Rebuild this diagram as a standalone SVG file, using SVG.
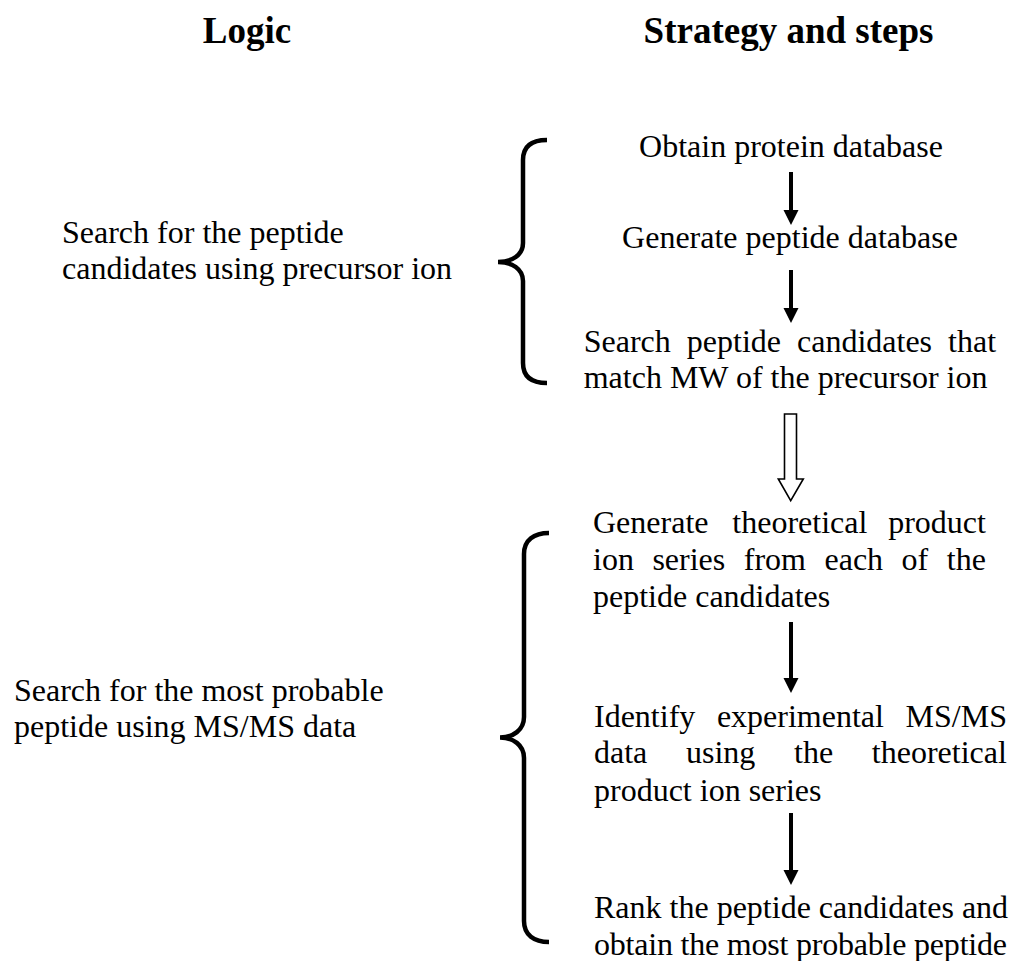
<svg xmlns="http://www.w3.org/2000/svg" width="1014" height="961" viewBox="0 0 1014 961">
<style>
text{font-family:"Liberation Serif","Times New Roman",serif;fill:#000}
.h{font-size:37px;font-weight:bold;text-anchor:middle}
.t{font-size:32px}
.c{text-anchor:middle}
.brace{fill:none;stroke:#000;stroke-width:4.5;stroke-linecap:butt}
.solid{fill:#000;stroke:none}
.hollow{fill:#fff;stroke:#000;stroke-width:1.6;stroke-linejoin:miter}
</style>
<rect width="1014" height="961" fill="#fff"/>
<g id="headers">
<text class="h" x="247" y="43">Logic</text>
<text class="h" x="788.5" y="43">Strategy and steps</text>
</g>
<g id="logic1">
<text class="t" x="62" y="242.7">Search for the peptide</text>
<text class="t" x="62" y="279.3">candidates using precursor ion</text>
</g>
<g id="logic2">
<text class="t" x="14" y="700.7">Search for the most probable</text>
<text class="t" x="14" y="737.3">peptide using MS/MS data</text>
</g>
<g id="brace1">
<path class="brace" d="M547,140 C532,140 523,146 523,160 L523,243 C523,255 512,262 498,262 C512,262 523,269 523,281 L523,363 C523,377 532,383 547,383"/>
</g>
<g id="brace2">
<path class="brace" d="M549,533 C534,533 524,540 524,554 L524,717 C524,730 513,737.5 500,737.5 C513,737.5 524,745 524,758 L524,921 C524,935 534,942 549,942"/>
</g>
<g id="step1">
<text class="t c" x="791" y="157">Obtain protein database</text>
</g>
<g id="step2">
<text class="t c" x="790" y="248.3">Generate peptide database</text>
</g>
<g id="step3">
<text class="t" y="351.7"><tspan x="583.7">Search</tspan><tspan x="686.8">peptide</tspan><tspan x="797">candidates</tspan><tspan x="948.1">that</tspan></text>
<text class="t" x="583.7" y="388.3">match MW of the precursor ion</text>
</g>
<g id="step4">
<text class="t" y="533.3"><tspan x="593">Generate</tspan><tspan x="732.3">theoretical</tspan><tspan x="888.2">product</tspan></text>
<text class="t" y="570"><tspan x="593">ion</tspan><tspan x="652.4">series</tspan><tspan x="743.8">from</tspan><tspan x="824.5">each</tspan><tspan x="901.6">of</tspan><tspan x="946.8">the</tspan></text>
<text class="t" x="593" y="606.7">peptide candidates</text>
</g>
<g id="step5">
<text class="t" y="726.7"><tspan x="594">Identify</tspan><tspan x="716.9">experimental</tspan><tspan x="905.6">MS/MS</tspan></text>
<text class="t" y="763.3"><tspan x="594">data</tspan><tspan x="686">using</tspan><tspan x="794">the</tspan><tspan x="871.8">theoretical</tspan></text>
<text class="t" x="594" y="800.7">product ion series</text>
</g>
<g id="step6">
<text class="t" x="594" y="918.3">Rank the peptide candidates and</text>
<text class="t" x="594" y="955" textLength="413" lengthAdjust="spacing">obtain the most probable peptide</text>
</g>
<g id="connectors">
<polygon class="solid" points="789,172 793,172 793,210 798.5,210 791,225 783.5,210 789,210"/>
<polygon class="solid" points="789,270 793,270 793,308 798.5,308 791,323 783.5,308 789,308"/>
<polygon class="hollow" points="784.5,414 796.5,414 796.5,479 803.3,479 790.7,500.7 778.3,479 784.5,479"/>
<polygon class="solid" points="789,622 793,622 793,678 798.5,678 791,693 783.5,678 789,678"/>
<polygon class="solid" points="789,813 793,813 793,870 798.5,870 791,885 783.5,870 789,870"/>
</g>
</svg>
